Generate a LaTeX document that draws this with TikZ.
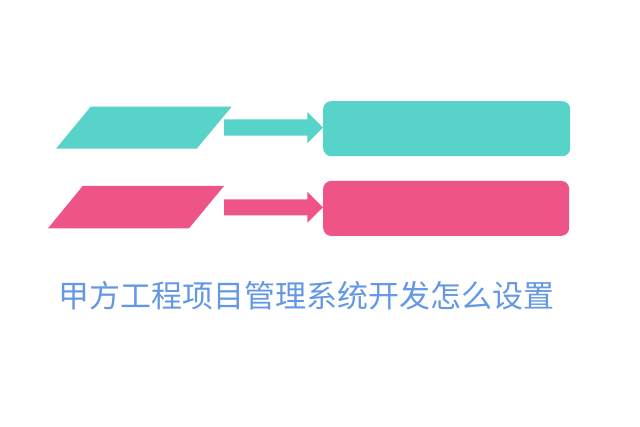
\documentclass[tikz,border=0pt]{standalone}
\usepackage{fontspec}
\newfontfamily\cjk{Noto Sans CJK SC}
\definecolor{teal1}{HTML}{57D3C9}
\definecolor{pink1}{HTML}{EE5586}
\definecolor{titleblue}{HTML}{6497E4}
\begin{document}
\begin{tikzpicture}[x=1pt,y=-1pt,
  boxstyle/.style={fill=#1,draw=none,rounded corners=8pt,anchor=north west,inner sep=0pt},
  titletext/.style={font=\cjk\fontsize{31}{33}\selectfont,inner sep=0pt}]
\useasboundingbox (0,0) rectangle (640,427);
% teal row
\fill[teal1] (90.7,106.7) -- (231.7,106.7) -- (196.7,148.7) -- (56,148.7) -- cycle;
\fill[teal1] (224,119.3) -- (307.3,119.3) -- (307.3,112) -- (323,127.7) -- (307.3,143.3) -- (307.3,135.7) -- (224,135.7) -- cycle;
\node[boxstyle=teal1,minimum width=247pt,minimum height=55pt] (r1) at (323,101) {};
% pink row
\fill[pink1] (82.7,186) -- (224,186) -- (189,228.3) -- (48,228.3) -- cycle;
\fill[pink1] (224,199.3) -- (307.3,199.3) -- (307.3,191.7) -- (323,207.3) -- (307.3,222.7) -- (307.3,215.3) -- (224,215.3) -- cycle;
\node[boxstyle=pink1,minimum width=246pt,minimum height=55pt] (r2) at (323,180.7) {};
% title
\node[titletext,text=titleblue] (title) at (306.7,295.5) {甲方工程项目管理系统开发怎么设置};
\end{tikzpicture}
\end{document}
